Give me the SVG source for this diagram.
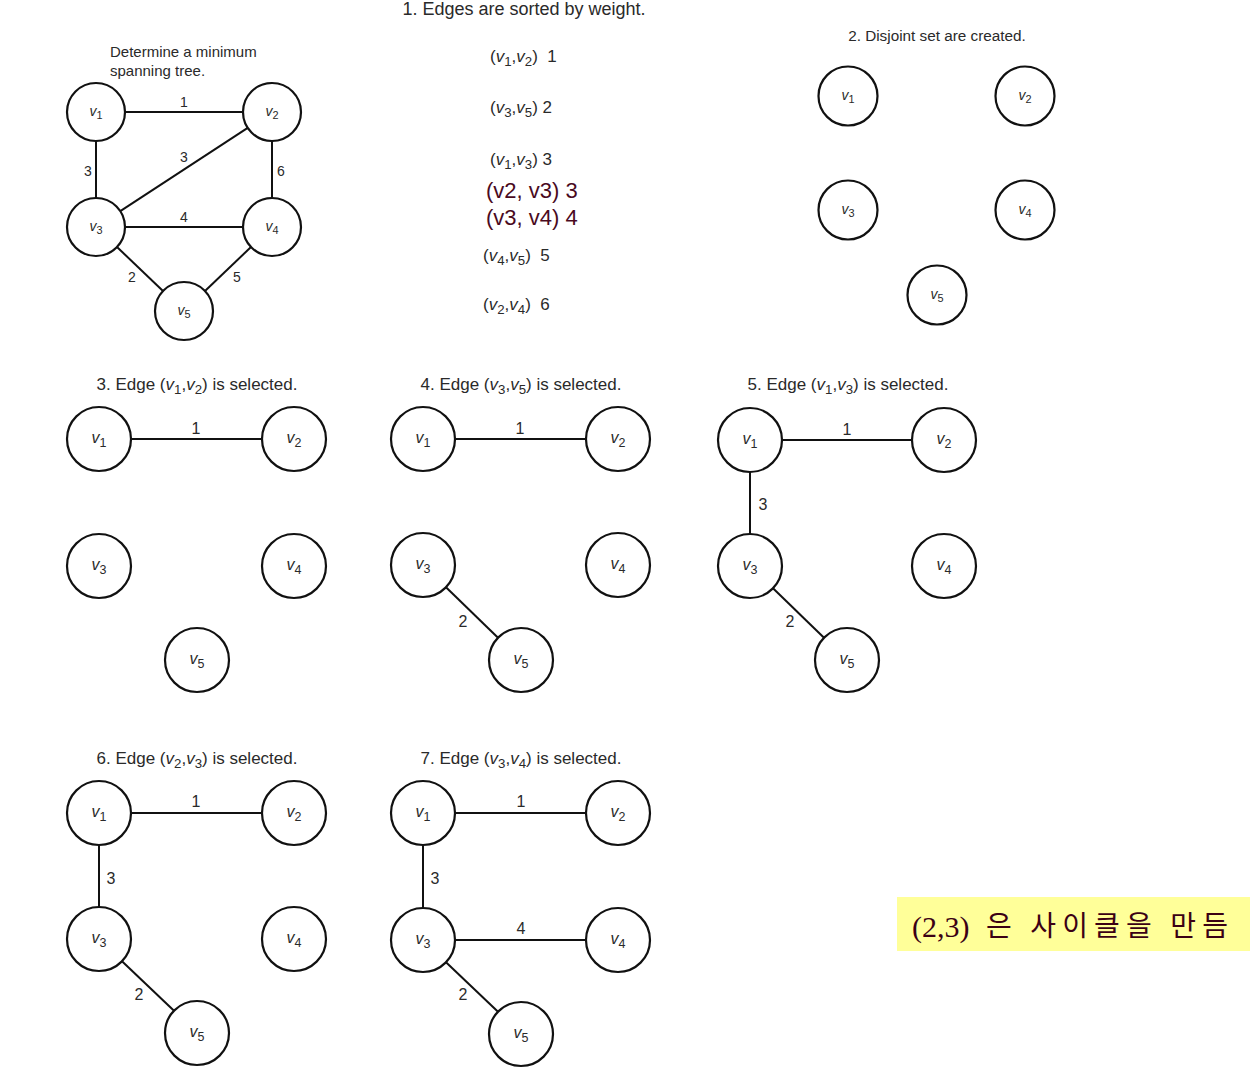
<svg xmlns="http://www.w3.org/2000/svg" width="1250" height="1084" viewBox="0 0 1250 1084">
<style>
text{font-family:"Liberation Sans",Arial,sans-serif;fill:#2a2a2a}
.node{fill:#fff;stroke:#111;stroke-width:2.2}
.edge{stroke:#111;stroke-width:2;fill:none}
.nl{font-size:14px;text-anchor:middle}
.nlb{font-size:16px;text-anchor:middle}
.it{font-style:italic}
.sub{font-size:78%}
.wl{font-size:14px;text-anchor:middle}
.wlb{font-size:16px;text-anchor:middle}
.title{font-size:17px;text-anchor:middle}
.lst{font-size:17px}
.red{font-size:22px;fill:#4a0a1e}
.serif{font-family:"Liberation Serif","Times New Roman",serif;font-size:30px;fill:#3b0014}
.kr{font-family:"Noto Sans CJK KR","Noto Sans",sans-serif;font-size:28px;fill:#3b0014}
</style>
<rect width="1250" height="1084" fill="#fff"/>

<!-- Titles -->
<g id="titles">
<text x="110" y="57" font-size="15">Determine a minimum</text>
<text x="110" y="76" font-size="15">spanning tree.</text>
<text x="524" y="15" font-size="18" text-anchor="middle">1. Edges are sorted by weight.</text>
<text x="937" y="41" font-size="15.3" text-anchor="middle">2. Disjoint set are created.</text>
<text x="197" y="390" class="title">3. Edge (<tspan class="it">v</tspan><tspan class="sub" dy="4">1</tspan><tspan dy="-4">,</tspan><tspan class="it">v</tspan><tspan class="sub" dy="4">2</tspan><tspan dy="-4">) is selected.</tspan></text>
<text x="521" y="390" class="title">4. Edge (<tspan class="it">v</tspan><tspan class="sub" dy="4">3</tspan><tspan dy="-4">,</tspan><tspan class="it">v</tspan><tspan class="sub" dy="4">5</tspan><tspan dy="-4">) is selected.</tspan></text>
<text x="848" y="390" class="title">5. Edge (<tspan class="it">v</tspan><tspan class="sub" dy="4">1</tspan><tspan dy="-4">,</tspan><tspan class="it">v</tspan><tspan class="sub" dy="4">3</tspan><tspan dy="-4">) is selected.</tspan></text>
<text x="197" y="764" class="title">6. Edge (<tspan class="it">v</tspan><tspan class="sub" dy="4">2</tspan><tspan dy="-4">,</tspan><tspan class="it">v</tspan><tspan class="sub" dy="4">3</tspan><tspan dy="-4">) is selected.</tspan></text>
<text x="521" y="764" class="title">7. Edge (<tspan class="it">v</tspan><tspan class="sub" dy="4">3</tspan><tspan dy="-4">,</tspan><tspan class="it">v</tspan><tspan class="sub" dy="4">4</tspan><tspan dy="-4">) is selected.</tspan></text>
</g>

<!-- Sorted edge list -->
<g id="sorted-list">
<text x="490" y="62" class="lst">(<tspan class="it">v</tspan><tspan class="sub" dy="4">1</tspan><tspan dy="-4">,</tspan><tspan class="it">v</tspan><tspan class="sub" dy="4">2</tspan><tspan dy="-4">)&#160; 1</tspan></text>
<text x="490" y="113" class="lst">(<tspan class="it">v</tspan><tspan class="sub" dy="4">3</tspan><tspan dy="-4">,</tspan><tspan class="it">v</tspan><tspan class="sub" dy="4">5</tspan><tspan dy="-4">) 2</tspan></text>
<text x="490" y="165" class="lst">(<tspan class="it">v</tspan><tspan class="sub" dy="4">1</tspan><tspan dy="-4">,</tspan><tspan class="it">v</tspan><tspan class="sub" dy="4">3</tspan><tspan dy="-4">) 3</tspan></text>
<text x="486" y="198" class="red">(v2, v3) 3</text>
<text x="486" y="225" class="red">(v3, v4) 4</text>
<text x="483" y="261" class="lst">(<tspan class="it">v</tspan><tspan class="sub" dy="4">4</tspan><tspan dy="-4">,</tspan><tspan class="it">v</tspan><tspan class="sub" dy="4">5</tspan><tspan dy="-4">)&#160; 5</tspan></text>
<text x="483" y="310" class="lst">(<tspan class="it">v</tspan><tspan class="sub" dy="4">2</tspan><tspan dy="-4">,</tspan><tspan class="it">v</tspan><tspan class="sub" dy="4">4</tspan><tspan dy="-4">)&#160; 6</tspan></text>
</g>

<!-- Connectors -->
<g id="connectors">
<!-- original graph -->
<line class="edge" x1="125" y1="112" x2="243" y2="112"/>
<line class="edge" x1="96" y1="141" x2="96" y2="198"/>
<line class="edge" x1="272" y1="141" x2="272" y2="198"/>
<line class="edge" x1="125" y1="227" x2="243" y2="227"/>
<line class="edge" x1="120.3" y1="211.1" x2="247.7" y2="127.9"/>
<line class="edge" x1="117" y1="247" x2="163" y2="291"/>
<line class="edge" x1="251" y1="247" x2="205" y2="291"/>
<!-- panel 3 -->
<line class="edge" x1="131" y1="439" x2="262" y2="439"/>
<!-- panel 4 -->
<line class="edge" x1="455" y1="439" x2="586" y2="439"/>
<line class="edge" x1="446" y1="587.3" x2="498" y2="637.7"/>
<!-- panel 5 -->
<line class="edge" x1="782" y1="440" x2="912" y2="440"/>
<line class="edge" x1="750" y1="472" x2="750" y2="534"/>
<line class="edge" x1="773" y1="588.3" x2="824" y2="637.7"/>
<!-- panel 6 -->
<line class="edge" x1="131" y1="813" x2="262" y2="813"/>
<line class="edge" x1="99" y1="845" x2="99" y2="907"/>
<line class="edge" x1="122" y1="961.3" x2="174" y2="1010.7"/>
<!-- panel 7 -->
<line class="edge" x1="455" y1="813" x2="586" y2="813"/>
<line class="edge" x1="423" y1="845" x2="423" y2="908"/>
<line class="edge" x1="455" y1="940" x2="586" y2="940"/>
<line class="edge" x1="446" y1="962.3" x2="498" y2="1011.7"/>
</g>

<!-- Edge weight labels -->
<g id="edge-labels">
<text x="184" y="107" class="wl">1</text>
<text x="88" y="176" class="wl">3</text>
<text x="184" y="162" class="wl">3</text>
<text x="281" y="176" class="wl">6</text>
<text x="184" y="222" class="wl">4</text>
<text x="132" y="282" class="wl">2</text>
<text x="237" y="282" class="wl">5</text>

<text x="196" y="434" class="wlb">1</text>

<text x="520" y="434" class="wlb">1</text>
<text x="463" y="627" class="wlb">2</text>

<text x="847" y="435" class="wlb">1</text>
<text x="763" y="510" class="wlb">3</text>
<text x="790" y="627" class="wlb">2</text>

<text x="196" y="807" class="wlb">1</text>
<text x="111" y="884" class="wlb">3</text>
<text x="139" y="1000" class="wlb">2</text>

<text x="521" y="807" class="wlb">1</text>
<text x="435" y="884" class="wlb">3</text>
<text x="521" y="934" class="wlb">4</text>
<text x="463" y="1000" class="wlb">2</text>
</g>

<!-- Original graph nodes -->
<g id="g0-v1"><circle class="node" cx="96" cy="112" r="29"/><text x="96" y="116" class="nl"><tspan class="it">v</tspan><tspan class="sub" dy="3">1</tspan></text></g>
<g id="g0-v2"><circle class="node" cx="272" cy="112" r="29"/><text x="272" y="116" class="nl"><tspan class="it">v</tspan><tspan class="sub" dy="3">2</tspan></text></g>
<g id="g0-v3"><circle class="node" cx="96" cy="227" r="29"/><text x="96" y="231" class="nl"><tspan class="it">v</tspan><tspan class="sub" dy="3">3</tspan></text></g>
<g id="g0-v4"><circle class="node" cx="272" cy="227" r="29"/><text x="272" y="231" class="nl"><tspan class="it">v</tspan><tspan class="sub" dy="3">4</tspan></text></g>
<g id="g0-v5"><circle class="node" cx="184" cy="311" r="29"/><text x="184" y="315" class="nl"><tspan class="it">v</tspan><tspan class="sub" dy="3">5</tspan></text></g>

<!-- Disjoint set nodes -->
<g id="g2-v1"><circle class="node" cx="848" cy="96" r="29.5"/><text x="848" y="100" class="nl"><tspan class="it">v</tspan><tspan class="sub" dy="3">1</tspan></text></g>
<g id="g2-v2"><circle class="node" cx="1025" cy="96" r="29.5"/><text x="1025" y="100" class="nl"><tspan class="it">v</tspan><tspan class="sub" dy="3">2</tspan></text></g>
<g id="g2-v3"><circle class="node" cx="848" cy="210" r="29.5"/><text x="848" y="214" class="nl"><tspan class="it">v</tspan><tspan class="sub" dy="3">3</tspan></text></g>
<g id="g2-v4"><circle class="node" cx="1025" cy="210" r="29.5"/><text x="1025" y="214" class="nl"><tspan class="it">v</tspan><tspan class="sub" dy="3">4</tspan></text></g>
<g id="g2-v5"><circle class="node" cx="937" cy="295" r="29.5"/><text x="937" y="299" class="nl"><tspan class="it">v</tspan><tspan class="sub" dy="3">5</tspan></text></g>

<!-- Panel 3 nodes -->
<g id="g3-v1"><circle class="node" cx="99" cy="439" r="32"/><text x="99" y="443" class="nlb"><tspan class="it">v</tspan><tspan class="sub" dy="4">1</tspan></text></g>
<g id="g3-v2"><circle class="node" cx="294" cy="439" r="32"/><text x="294" y="443" class="nlb"><tspan class="it">v</tspan><tspan class="sub" dy="4">2</tspan></text></g>
<g id="g3-v3"><circle class="node" cx="99" cy="566" r="32"/><text x="99" y="570" class="nlb"><tspan class="it">v</tspan><tspan class="sub" dy="4">3</tspan></text></g>
<g id="g3-v4"><circle class="node" cx="294" cy="566" r="32"/><text x="294" y="570" class="nlb"><tspan class="it">v</tspan><tspan class="sub" dy="4">4</tspan></text></g>
<g id="g3-v5"><circle class="node" cx="197" cy="660" r="32"/><text x="197" y="664" class="nlb"><tspan class="it">v</tspan><tspan class="sub" dy="4">5</tspan></text></g>

<!-- Panel 4 nodes -->
<g id="g4-v1"><circle class="node" cx="423" cy="439" r="32"/><text x="423" y="443" class="nlb"><tspan class="it">v</tspan><tspan class="sub" dy="4">1</tspan></text></g>
<g id="g4-v2"><circle class="node" cx="618" cy="439" r="32"/><text x="618" y="443" class="nlb"><tspan class="it">v</tspan><tspan class="sub" dy="4">2</tspan></text></g>
<g id="g4-v3"><circle class="node" cx="423" cy="565" r="32"/><text x="423" y="569" class="nlb"><tspan class="it">v</tspan><tspan class="sub" dy="4">3</tspan></text></g>
<g id="g4-v4"><circle class="node" cx="618" cy="565" r="32"/><text x="618" y="569" class="nlb"><tspan class="it">v</tspan><tspan class="sub" dy="4">4</tspan></text></g>
<g id="g4-v5"><circle class="node" cx="521" cy="660" r="32"/><text x="521" y="664" class="nlb"><tspan class="it">v</tspan><tspan class="sub" dy="4">5</tspan></text></g>

<!-- Panel 5 nodes -->
<g id="g5-v1"><circle class="node" cx="750" cy="440" r="32"/><text x="750" y="444" class="nlb"><tspan class="it">v</tspan><tspan class="sub" dy="4">1</tspan></text></g>
<g id="g5-v2"><circle class="node" cx="944" cy="440" r="32"/><text x="944" y="444" class="nlb"><tspan class="it">v</tspan><tspan class="sub" dy="4">2</tspan></text></g>
<g id="g5-v3"><circle class="node" cx="750" cy="566" r="32"/><text x="750" y="570" class="nlb"><tspan class="it">v</tspan><tspan class="sub" dy="4">3</tspan></text></g>
<g id="g5-v4"><circle class="node" cx="944" cy="566" r="32"/><text x="944" y="570" class="nlb"><tspan class="it">v</tspan><tspan class="sub" dy="4">4</tspan></text></g>
<g id="g5-v5"><circle class="node" cx="847" cy="660" r="32"/><text x="847" y="664" class="nlb"><tspan class="it">v</tspan><tspan class="sub" dy="4">5</tspan></text></g>

<!-- Panel 6 nodes -->
<g id="g6-v1"><circle class="node" cx="99" cy="813" r="32"/><text x="99" y="817" class="nlb"><tspan class="it">v</tspan><tspan class="sub" dy="4">1</tspan></text></g>
<g id="g6-v2"><circle class="node" cx="294" cy="813" r="32"/><text x="294" y="817" class="nlb"><tspan class="it">v</tspan><tspan class="sub" dy="4">2</tspan></text></g>
<g id="g6-v3"><circle class="node" cx="99" cy="939" r="32"/><text x="99" y="943" class="nlb"><tspan class="it">v</tspan><tspan class="sub" dy="4">3</tspan></text></g>
<g id="g6-v4"><circle class="node" cx="294" cy="939" r="32"/><text x="294" y="943" class="nlb"><tspan class="it">v</tspan><tspan class="sub" dy="4">4</tspan></text></g>
<g id="g6-v5"><circle class="node" cx="197" cy="1033" r="32"/><text x="197" y="1037" class="nlb"><tspan class="it">v</tspan><tspan class="sub" dy="4">5</tspan></text></g>

<!-- Panel 7 nodes -->
<g id="g7-v1"><circle class="node" cx="423" cy="813" r="32"/><text x="423" y="817" class="nlb"><tspan class="it">v</tspan><tspan class="sub" dy="4">1</tspan></text></g>
<g id="g7-v2"><circle class="node" cx="618" cy="813" r="32"/><text x="618" y="817" class="nlb"><tspan class="it">v</tspan><tspan class="sub" dy="4">2</tspan></text></g>
<g id="g7-v3"><circle class="node" cx="423" cy="940" r="32"/><text x="423" y="944" class="nlb"><tspan class="it">v</tspan><tspan class="sub" dy="4">3</tspan></text></g>
<g id="g7-v4"><circle class="node" cx="618" cy="940" r="32"/><text x="618" y="944" class="nlb"><tspan class="it">v</tspan><tspan class="sub" dy="4">4</tspan></text></g>
<g id="g7-v5"><circle class="node" cx="521" cy="1034" r="32"/><text x="521" y="1038" class="nlb"><tspan class="it">v</tspan><tspan class="sub" dy="4">5</tspan></text></g>

<!-- Note box -->
<g id="note">
<rect x="897" y="897" width="353" height="54" fill="#ffff99"/>
<text x="912" y="937" class="serif">(2,3)</text>
<text x="986" y="936" class="kr" textLength="242" lengthAdjust="spacing">은 사이클을 만듬</text>
</g>
</svg>
